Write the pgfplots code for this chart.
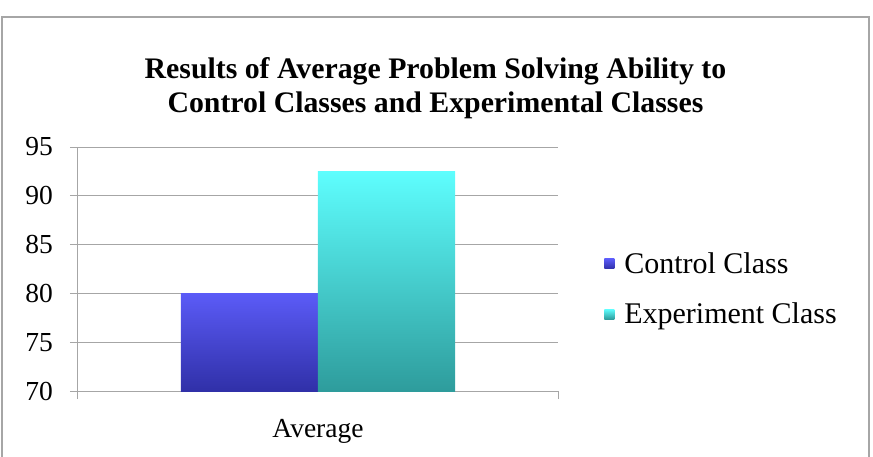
\documentclass[border=0pt]{standalone}
\usepackage{fontspec}
\setmainfont{Liberation Serif}
\usepackage{pgfplots}
\pgfplotsset{compat=1.18}
\definecolor{gridgray}{HTML}{A6A6A6}
\definecolor{ctop}{HTML}{5B5BF7}
\definecolor{cbot}{HTML}{3030A8}
\definecolor{etop}{HTML}{5EFEFE}
\definecolor{ebot}{HTML}{2E9C9C}
\begin{document}
\begin{tikzpicture}
\useasboundingbox (-78pt,-65pt) rectangle (795pt,374pt+17pt);
\draw[gridgray, line width=1.5pt] (-76pt,-80pt) -- (-76pt,374pt) -- (791pt,374pt) -- (791pt,-80pt);
\node[font=\fontsize{29.8}{34}\selectfont\bfseries, align=center] at (357.5pt,303pt) {Results of Average Problem Solving Ability to\\Control Classes and Experimental Classes};
\begin{axis}[
  at={(0pt,0pt)}, anchor=south west,
  scale only axis, width=480pt, height=244pt,
  xmin=-0.5, xmax=0.5, ymin=70, ymax=95,
  xtick={-0.5,0.5}, xticklabels={},
  extra x ticks={0}, extra x tick labels={Average},
  extra x tick style={major tick length=0pt},
  ytick={70,75,80,85,90,95},
  axis lines*=left,
  axis line style={gridgray, line width=1pt},
  ymajorgrids, grid style={gridgray, line width=1pt},
  tick align=outside, major tick length=8pt,
  tick style={draw=gridgray, line width=1pt},
  tick label style={font=\fontsize{27.5}{32}\selectfont},
  /pgf/number format/assume math mode=true,
  yticklabel style={inner sep=0pt, xshift=-17pt},
  xticklabel style={inner sep=0pt, yshift=-28pt},
  legend style={draw=none, fill=none, at={(1.096,0.418)}, anchor=west,
    font=\fontsize{30}{35}\selectfont, row sep=24pt, inner sep=0pt,
    nodes={inner xsep=10pt}},
  legend cell align=left,
  legend image code/.code={\path[#1,draw=none] (0pt,-5pt) rectangle (10pt,5pt);},
]
\addplot[ybar, bar width=137pt, bar shift=-68.5pt, draw=none, top color=ctop, bottom color=cbot] coordinates {(0,80)};
\addlegendentry{Control Class}
\addplot[ybar, bar width=137pt, bar shift=68.5pt, draw=none, top color=etop, bottom color=ebot] coordinates {(0,92.5)};
\addlegendentry{Experiment Class}
\end{axis}
\end{tikzpicture}
\end{document}
